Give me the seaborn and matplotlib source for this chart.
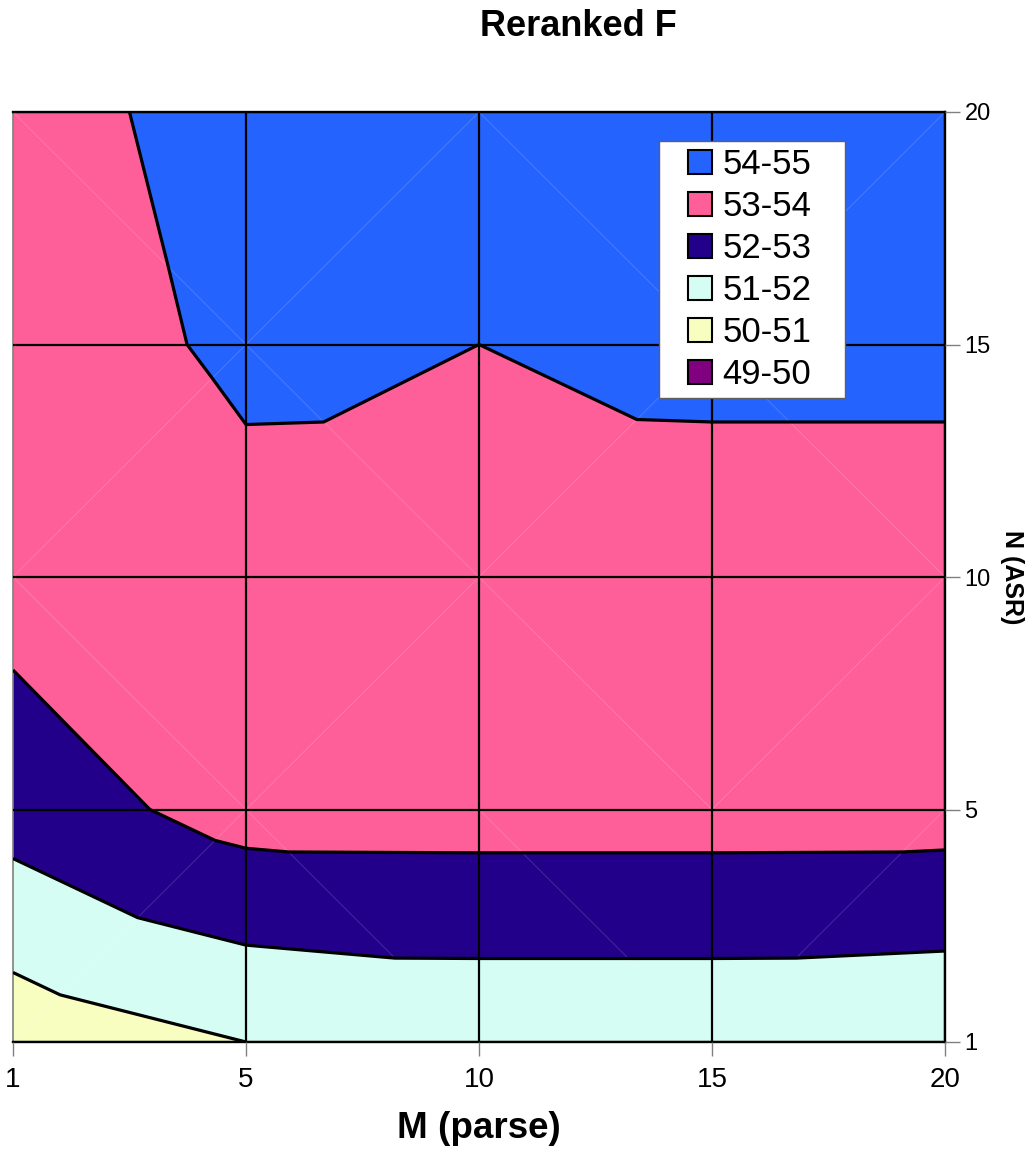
import numpy as np
import matplotlib
matplotlib.use("Agg")
import matplotlib.pyplot as plt
import matplotlib.tri as mtri
from matplotlib.collections import LineCollection
from matplotlib.lines import Line2D
import seaborn as sns

# Category axes
m_parse = [1, 5, 10, 15, 20]
n_asr = [1, 5, 10, 15, 20]

# Reranked F for each N (ASR) row, columns follow M (parse)
f_n1 = [50.39, 51.00, 51.21, 51.21, 51.10]
f_n5 = [52.43, 53.40, 53.41, 53.41, 53.40]
f_n10 = [53.38, 53.80, 53.79, 53.80, 53.80]
f_n15 = [53.69, 54.105, 54.00, 54.10, 54.10]
f_n20 = [53.79, 54.21, 54.30, 54.30, 54.30]

band_edges = [49, 50, 51, 52, 53, 54, 55]
band_labels = ["49-50", "50-51", "51-52", "52-53", "53-54", "54-55"]
band_colors = ["#800080", "#F8FDC0", "#D5FDF3", "#22008A", "#FF5F98", "#2563FF"]

# Diagonal that splits each grid cell into two triangles (rows from N=1 upward)
cell_split = [
    ["/", "\\", "\\", "/"],
    ["\\", "/", "\\", "/"],
    ["/", "\\", "/", "\\"],
    ["\\", "/", "\\", "/"],
]

sns.set_theme(style="white")
plt.rcParams["font.family"] = ["Liberation Sans", "DejaVu Sans"]
plt.rcParams["text.color"] = "black"
plt.rcParams["axes.labelcolor"] = "black"

nx, ny = len(m_parse), len(n_asr)
gx, gy = np.meshgrid(np.arange(nx), np.arange(ny))
z = np.array([f_n1, f_n5, f_n10, f_n15, f_n20], dtype=float).ravel()

triangles = []
for j in range(ny - 1):
    for i in range(nx - 1):
        a = j * nx + i
        b, c, d = a + 1, a + nx, a + nx + 1
        if cell_split[j][i] == "/":
            triangles += [[a, b, d], [a, d, c]]
        else:
            triangles += [[a, b, c], [b, d, c]]
tri = mtri.Triangulation(gx.ravel().astype(float), gy.ravel().astype(float), triangles)

fig = plt.figure(figsize=(10.25, 11.51), dpi=100)
ax = fig.add_axes([13 / 1025, 1 - 1042 / 1151, 932 / 1025, 930 / 1151])

ax.tricontourf(tri, z, levels=band_edges, colors=band_colors, zorder=1)

# faint seams along the triangle diagonals
edges = tri.edges
xe, ye = tri.x[edges], tri.y[edges]
diag = (xe[:, 0] != xe[:, 1]) & (ye[:, 0] != ye[:, 1])
segs = np.stack([np.stack([xe[diag, 0], ye[diag, 0]], 1),
                 np.stack([xe[diag, 1], ye[diag, 1]], 1)], 1)
ax.add_collection(LineCollection(segs, colors="white", alpha=0.16, linewidths=0.7, zorder=1.5))

ax.tricontour(tri, z, levels=band_edges[1:-1], colors="black", linewidths=2.3, zorder=3)

ax.set_xlim(0, nx - 1)
ax.set_ylim(0, ny - 1)
ax.set_xticks(np.arange(nx))
ax.set_xticklabels([str(v) for v in m_parse])
ax.set_yticks(np.arange(ny))
ax.set_yticklabels([str(v) for v in n_asr])
ax.yaxis.tick_right()
ax.yaxis.set_label_position("right")

ax.set_axisbelow(False)
ax.grid(True, color="black", linewidth=1.6, zorder=2.5)
ax.xaxis.get_gridlines()[0].set_visible(False)

ax.tick_params(axis="x", which="major", bottom=True, direction="out", length=10,
               width=1, color="#808080", labelsize=20, pad=8, labelcolor="black")
ax.tick_params(axis="y", which="major", right=True, left=False, direction="out", length=11,
               width=1, color="#808080", labelsize=17, pad=3, labelcolor="black")

for side in ["top", "right", "bottom"]:
    ax.spines[side].set_color("black")
    ax.spines[side].set_linewidth(1.7)
    ax.spines[side].set_visible(True)
ax.spines["left"].set_color("#808080")
ax.spines["left"].set_linewidth(1.2)
ax.spines["left"].set_visible(True)

ax.set_xlabel("M (parse)", fontsize=26.5, fontweight="bold")
ax.xaxis.set_label_coords(0.5, -(1128 - 1042) / 930)
ax.xaxis.label.set_verticalalignment("center")
ax.set_ylabel("N (ASR)", fontsize=18, fontweight="bold", rotation=270)
ax.yaxis.set_label_coords((1012 - 13) / 932, 0.5)
ax.yaxis.label.set_verticalalignment("center")

fig.text(578 / 1025, 1 - 27 / 1151, "Reranked F", ha="center", va="center",
         fontsize=26, fontweight="bold")

handles = [Line2D([], [], marker="s", markersize=17, linestyle="None",
                  markerfacecolor=c, markeredgecolor="black", markeredgewidth=1.5)
           for c in band_colors[::-1]]
leg_x0 = (659 - 13) / 932
leg_top = (1042 - 141) / 930
leg_w = (845 - 659) / 932
leg = ax.legend(handles, band_labels[::-1], loc="upper left",
                bbox_to_anchor=(leg_x0, leg_top - 0.3, leg_w, 0.3), mode="expand",
                fontsize=25, frameon=True, fancybox=False, framealpha=1,
                edgecolor="#606060", borderpad=0.2, labelspacing=0.26,
                handlelength=1.95, handletextpad=-0.33, borderaxespad=0)
leg.get_frame().set_linewidth(1.0)
leg.set_zorder(5)

fig.savefig("out.png", dpi=100, facecolor="white")
